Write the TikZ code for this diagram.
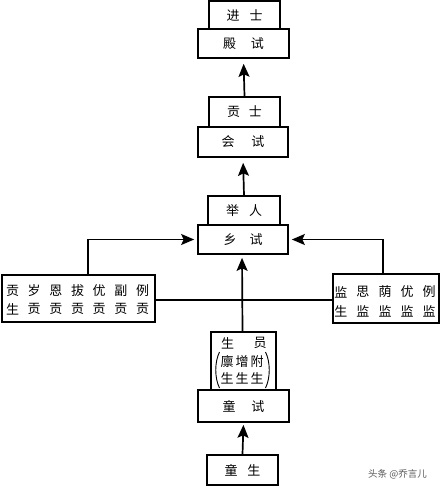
\documentclass[tikz,border=0pt]{standalone}
\usepackage{fontspec}
\newfontfamily\cjk{Noto Sans CJK SC}
\usetikzlibrary{arrows.meta}
\begin{document}
\begin{tikzpicture}[x=1pt,y=-1pt,
  box/.style={draw, line width=1.7pt, inner sep=0pt, font=\cjk\fontsize{13}{15}\selectfont},
  arr/.style={line width=1.7pt, -{Stealth[length=13pt,width=11pt,inset=2.5pt]}},
  conn/.style={line width=1.7pt},
  paren/.style={line width=0.9pt},
  ch/.style={inner sep=0pt, font=\cjk\fontsize{13}{16}\selectfont},
  wmark/.style={inner sep=0pt, text=black!65, font=\cjk\fontsize{9.5}{11}\selectfont}]
\useasboundingbox (0,0) rectangle (443,487);
% stacked boxes
\node[box, minimum width=91pt, minimum height=29pt] (dianshi) at (243.5,43.5) {殿\hspace{15pt}试};
\node[box, minimum width=71pt, minimum height=28pt] (jinshi) at (244.5,15) {进\hspace{10pt}士};
\node[box, minimum width=90pt, minimum height=30pt] (huishi) at (243,142) {会\hspace{17pt}试};
\node[box, minimum width=71pt, minimum height=30pt] (gongshi) at (244.5,112) {贡\hspace{9pt}士};
\node[box, minimum width=90pt, minimum height=29pt] (xiangshi) at (243,239.5) {乡\hspace{13pt}试};
\node[box, minimum width=72pt, minimum height=29pt] (juren) at (244,210.5) {举\hspace{10pt}人};
\node[box, minimum width=91pt, minimum height=32pt] (tongshi) at (243.5,406) {童\hspace{16pt}试};
\node[box, minimum width=65pt, minimum height=58pt] (shengyuan) at (243.5,361) {};
\node[box, minimum width=71pt, minimum height=30pt] (tongsheng) at (242.5,470) {童\hspace{10pt}生};
% side boxes
\node[box, minimum width=153pt, minimum height=47pt] (left) at (78.5,298.5) {};
\node[box, minimum width=106pt, minimum height=49pt] (right) at (386,298.5) {};
\foreach \c [count=\i] in {贡,岁,恩,拔,优,副,例}
  \node[ch] (la\i) at ({12.5+(\i-1)*21.67},291) {\c};
\foreach \c [count=\i] in {生,贡,贡,贡,贡,贡,贡}
  \node[ch] (lb\i) at ({12.5+(\i-1)*21.67},309) {\c};
\foreach \c [count=\i] in {监,思,荫,优,例}
  \node[ch] (ra\i) at ({340.8+(\i-1)*22.1},292) {\c};
\foreach \c [count=\i] in {生,监,监,监,监}
  \node[ch] (rb\i) at ({340.8+(\i-1)*22.1},311) {\c};
% shengyuan content
\node[ch] (sy1) at (227.5,343) {生};
\node[ch] (sy2) at (260,343) {员};
\foreach \c [count=\i] in {廪,增,附}
  \node[ch] (sa\i) at ({227+(\i-1)*15},362) {\c};
\foreach \c [count=\i] in {生,生,生}
  \node[ch] (sb\i) at ({227+(\i-1)*15},378) {\c};
\draw[paren] (219.5,352) .. controls (214.5,362) and (214.5,378) .. (219.5,388);
\draw[paren] (265.5,352) .. controls (270.5,362) and (270.5,378) .. (265.5,388);
% connectors
\draw[arr, shorten >=5pt] (gongshi.north) -- (dianshi.south);
\draw[arr, shorten >=5pt] (juren.north) -- (huishi.south);
\draw[arr, shorten >=3pt] ([xshift=-1pt]shengyuan.north) -- ([xshift=-1pt]xiangshi.south);
\draw[arr, shorten >=2pt] (tongsheng.north) -- (tongshi.south);
\draw[arr, shorten >=3pt] ([xshift=9.5pt]left.north) |- (xiangshi.west);
\draw[arr, shorten >=3pt] ([xshift=-3pt]right.north) |- (xiangshi.east);
\draw[conn] ([yshift=-1.5pt]left.east) -- ([yshift=-1.5pt]right.west);
% watermark
\node[wmark] (wm) at (397.5,474) {头条 @乔言儿};
\end{tikzpicture}
\end{document}
